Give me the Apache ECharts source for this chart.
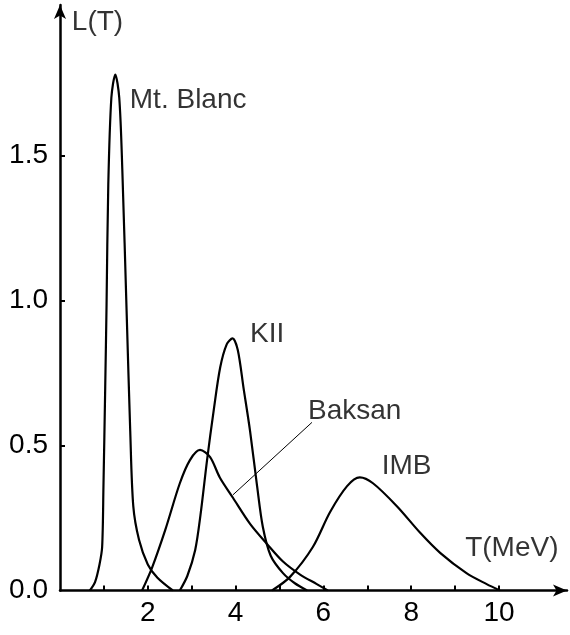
<!DOCTYPE html>
<html>
<head>
<meta charset="utf-8">
<script src="https://cdn.jsdelivr.net/npm/echarts@6/dist/echarts.min.js"></script>
<style>
  html, body { margin: 0; padding: 0; background: #fff; }
  #chart { width: 570px; height: 635px; }
</style>
</head>
<body>
<div id="chart"></div>
<script>
// tick positions and labels
var xTicks = [1, 2, 3, 4, 5, 6, 7, 8, 9, 10];
var xLabels = [2, 4, 6, 8, 10];
var yTicks = [0.5, 1.0, 1.5];
var yLabels = [0, 0.5, 1.0, 1.5];

// curves, [T, L(T)]
var mtBlanc = [[0.68, 0], [0.80, 0.03], [0.90, 0.09], [0.96, 0.15], [0.99, 0.36], [1.03, 0.70],
  [1.06, 0.98], [1.10, 1.40], [1.17, 1.70], [1.26, 1.78], [1.35, 1.70], [1.42, 1.45], [1.52, 0.95],
  [1.60, 0.55], [1.67, 0.29], [1.80, 0.175], [2.00, 0.09], [2.22, 0.044], [2.57, 0]];
var kii = [[2.73, 0], [2.90, 0.05], [3.08, 0.14], [3.20, 0.26], [3.35, 0.45], [3.50, 0.62],
  [3.65, 0.77], [3.80, 0.85], [3.93, 0.87], [4.05, 0.83], [4.18, 0.70], [4.33, 0.55], [4.49, 0.36],
  [4.62, 0.22], [4.80, 0.12], [5.08, 0.06], [5.35, 0.025], [5.63, 0]];
var baksan = [[1.87, 0], [2.10, 0.08], [2.40, 0.21], [2.73, 0.37], [2.96, 0.45], [3.19, 0.485],
  [3.42, 0.46], [3.64, 0.39], [3.94, 0.32], [4.33, 0.23], [4.72, 0.16], [5.08, 0.10],
  [5.47, 0.055], [5.85, 0.022], [6.10, 0]];
var imb = [[4.83, 0], [5.24, 0.047], [5.76, 0.15], [6.15, 0.27], [6.54, 0.36], [6.83, 0.39],
  [7.13, 0.37], [7.68, 0.29], [8.20, 0.20], [8.66, 0.13], [9.26, 0.06], [9.72, 0.022], [10.02, 0]];
var leader = [[3.94, 0.33], [5.74, 0.58]];

// text annotations
var notes = [
  { text: 'L(T)', at: [0.27, 1.96] },
  { text: 'Mt. Blanc', at: [1.59, 1.69] },
  { text: 'KII', at: [4.33, 0.885] },
  { text: 'Baksan', at: [5.65, 0.62] },
  { text: 'IMB', at: [7.33, 0.43] },
  { text: 'T(MeV)', at: [9.23, 0.147] }
];

var chart = echarts.init(document.getElementById('chart'));
var font = 'Liberation Sans, Arial, sans-serif';

function curve(name, data) {
  return {
    name: name,
    type: 'line',
    data: data,
    smooth: 0.3,
    showSymbol: false,
    silent: true,
    lineStyle: { color: '#000', width: 2.2 }
  };
}

var option = {
  animation: false,
  grid: { left: 60, right: 3, top: 5, bottom: 44.5 },
  xAxis: {
    type: 'value',
    min: 0,
    max: 11.55,
    interval: 1,
    splitLine: { show: false },
    axisLine: {
      lineStyle: { color: '#000', width: 2.5 },
      symbol: ['none', 'arrow'],
      symbolSize: [9, 14]
    },
    axisTick: {
      inside: true,
      length: 5,
      customValues: xTicks,
      lineStyle: { color: '#000', width: 2 }
    },
    axisLabel: {
      customValues: xLabels,
      margin: 9,
      color: '#000',
      fontSize: 28,
      fontFamily: font
    }
  },
  yAxis: {
    type: 'value',
    min: 0,
    max: 2.02,
    interval: 0.5,
    splitLine: { show: false },
    axisLine: {
      lineStyle: { color: '#000', width: 2.5 },
      symbol: ['none', 'arrow'],
      symbolSize: [9, 14]
    },
    axisTick: {
      inside: true,
      length: 5,
      customValues: yTicks,
      lineStyle: { color: '#000', width: 2 }
    },
    axisLabel: {
      customValues: yLabels,
      margin: 12,
      color: '#000',
      fontSize: 28,
      fontFamily: font,
      formatter: function (v) { return v.toFixed(1); }
    }
  },
  series: [
    curve('Mt. Blanc', mtBlanc),
    curve('KII', kii),
    curve('Baksan', baksan),
    curve('IMB', imb),
    {
      name: 'leader',
      type: 'line',
      data: leader,
      showSymbol: false,
      silent: true,
      lineStyle: { color: '#000', width: 1 }
    },
    {
      name: 'notes',
      type: 'scatter',
      symbolSize: 0,
      silent: true,
      data: notes.map(function (n) { return { value: n.at, name: n.text }; }),
      label: {
        show: true,
        position: 'right',
        distance: 0,
        formatter: '{b}',
        color: '#000',
        fontSize: 28,
        fontFamily: font
      }
    }
  ]
};

chart.setOption(option);
</script>
</body>
</html>
